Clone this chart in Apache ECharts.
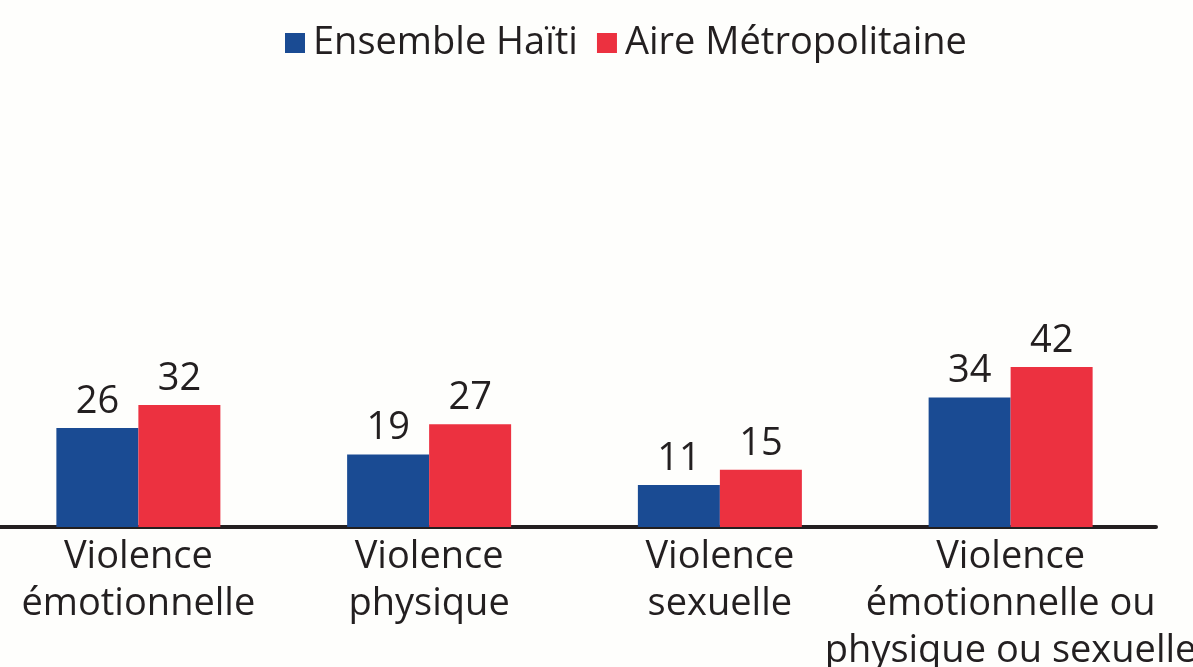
<!DOCTYPE html>
<html>
<head>
<meta charset="utf-8" />
<title>Violence</title>
<script src="https://cdn.jsdelivr.net/npm/echarts@6/dist/echarts.min.js"></script>
<style>
html, body { margin: 0; padding: 0; background: #fefefc; }
#chart { width: 1193px; height: 667px; }
</style>
</head>
<body>
<div id="chart"></div>
<script type="text/javascript">
// catégories (axe x)
var categories = [
	'Violence\némotionnelle',
	'Violence\nphysique',
	'Violence\nsexuelle',
	'Violence\némotionnelle ou\nphysique ou sexuelle'
];
// séries
var ensembleHaiti = [26, 19, 11, 34];
var aireMetro = [32, 27, 15, 42];

var fontFam = '"Open Sans", "Noto Sans", sans-serif';

var myChart = echarts.init(document.getElementById('chart'));
var option = {
	backgroundColor: '#fefefc',
	animation: false,
	color: ['#1a4b93', '#ec3140'],
	legend: {
		data: ['Ensemble Haïti', 'Aire Métropolitaine'],
		top: 19,
		left: 280,
		itemWidth: 20,
		itemHeight: 20,
		itemGap: 19,
		icon: 'rect',
		textStyle: { fontFamily: fontFam, fontSize: 38, color: '#231f20', padding: [0, 0, 0, 3] }
	},
	grid: { left: -7, width: 1163, top: 146, height: 381, outerBoundsMode: 'none', containLabel: false },
	xAxis: {
		type: 'category',
		data: categories,
		axisLine: { lineStyle: { color: '#231f20', width: 4 } },
		axisTick: { show: false },
		axisLabel: {
			interval: 0,
			margin: 7,
			fontFamily: fontFam,
			fontSize: 38,
			lineHeight: 47,
			color: '#231f20'
		}
	},
	yAxis: {
		type: 'value',
		min: 0,
		max: 100,
		show: false,
		splitLine: { show: false }
	},
	series: [{
		name: 'Ensemble Haïti',
		type: 'bar',
		data: ensembleHaiti,
		barWidth: 82,
		barGap: '0%',
		label: { show: true, position: 'top', distance: 7, fontFamily: fontFam, fontSize: 38, color: '#231f20' }
	}, {
		name: 'Aire Métropolitaine',
		type: 'bar',
		data: aireMetro,
		barWidth: 82,
		barGap: '0%',
		label: { show: true, position: 'top', distance: 7, fontFamily: fontFam, fontSize: 38, color: '#231f20' }
	}]
};
myChart.setOption(option);
</script>
</body>
</html>
